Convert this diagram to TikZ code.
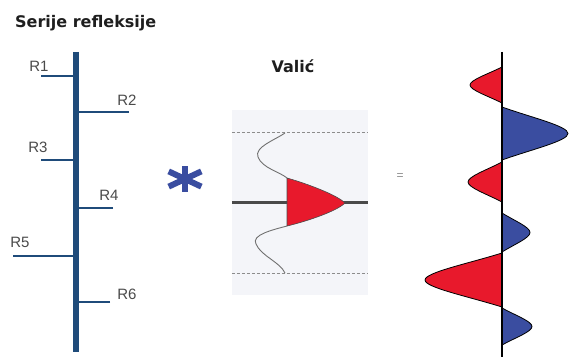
\documentclass[tikz,border=0pt]{standalone}
\usepackage{fontspec}
\setmainfont{Liberation Sans}
\newfontfamily\naslovfont{DejaVu Sans}
\usetikzlibrary{positioning}
\definecolor{tamnoplava}{HTML}{1F4B7A}
\definecolor{plava}{HTML}{3A4DA0}
\definecolor{crvena}{HTML}{E8192C}
\definecolor{siva}{HTML}{8C8C8C}
\definecolor{tamnosiva}{HTML}{4A4A4A}
\definecolor{pozadina}{HTML}{F4F5F9}
\definecolor{tekst}{HTML}{1E1E1E}
\tikzset{
  naslov/.style={font=\naslovfont\bfseries\fontsize{16}{16}\selectfont, text=tekst, inner sep=0pt},
  oznaka/.style={font=\fontsize{15}{15}\selectfont, text=tamnosiva, inner sep=0pt},
  os/.style={line width=5.5pt, tamnoplava},
  klin/.style={line width=2.4pt, tamnoplava},
  zvjezda/.style={line width=6pt, plava},
  isprekidana/.style={densely dashed, siva, line width=0.6pt},
  valic/.style={siva!80!black, line width=0.9pt},
  trag/.style={black, line width=1.8pt},
}
% lobe: boja, gornji y, donji y, vrh x
\newcommand{\lobe}[4]{%
  \filldraw[#1, draw=black, line width=0.8pt]
    (502,#2) .. controls ({502+0.45*(#4-502)},{#2+0.2*(#3-#2)}) and (#4,{(#2+#3)/2-0.14*(#3-#2)}) .. (#4,{(#2+#3)/2})
    .. controls (#4,{(#2+#3)/2+0.14*(#3-#2)}) and ({502+0.45*(#4-502)},{#3-0.2*(#3-#2)}) .. (502,#3) -- cycle;}

\begin{document}
\begin{tikzpicture}[x=1pt, y=-1pt]
  \useasboundingbox (0,0) rectangle (569,358);

  % serije refleksije
  \node[naslov, anchor=base west] (serije) at (15,28) {Serije refleksije};
  \coordinate (osgore) at (76,52);
  \coordinate (osdolje) at (76,352);
  \draw[os] (osgore) -- (osdolje);
  \coordinate (r1) at (41,76);
  \coordinate (r2) at (129,112);
  \coordinate (r3) at (41,160);
  \coordinate (r4) at (113,208);
  \coordinate (r5) at (13,256);
  \coordinate (r6) at (110,302);
  \foreach \r in {r1,r2,r3,r4,r5,r6}
    \draw[klin] (\r) -- (\r -| osgore);
  \node[oznaka] (R1) at (39,66) {R1};
  \node[oznaka] (R2) at (127,100) {R2};
  \node[oznaka] (R3) at (38,147) {R3};
  \node[oznaka] (R4) at (109,195) {R4};
  \node[oznaka] (R5) at (20,242) {R5};
  \node[oznaka] (R6) at (127,294) {R6};

  % konvolucija
  \coordinate (zv) at (185,179);
  \draw[zvjezda] (zv) ++(0,-13) -- ++(0,26);
  \draw[zvjezda] (zv) ++(25:18) -- ++(205:36);
  \draw[zvjezda] (zv) ++(-25:18) -- ++(155:36);

  % valic
  \node[naslov, anchor=base] (valic) at (293,73) {Valić};
  \node[fill=pozadina, minimum width=136pt, minimum height=185pt, inner sep=0pt] (okvir) at (300,202.5) {};
  \draw[isprekidana] ([yshift=-23pt]okvir.north west) -- ([yshift=-23pt]okvir.north east);
  \draw[isprekidana] ([yshift=22pt]okvir.south west) -- ([yshift=22pt]okvir.south east);
  \draw[line width=3.5pt, tamnosiva] (okvir.west) -- (okvir.east);
  \draw[valic] (285,133) .. controls (275,140) and (254,147) .. (258,157)
    .. controls (262,168) and (280,172) .. (287,178);
  \draw[valic] (287,226) .. controls (272,230) and (251,235) .. (256,244)
    .. controls (261,256) and (280,262) .. (285,273);
  \filldraw[crvena, draw=tamnosiva, line width=0.6pt] (287,178) .. controls (308,184) and (337,195) .. (345,203)
    .. controls (337,211) and (308,221) .. (287,226) -- cycle;

  \node[font=\fontsize{12}{12}\selectfont, text=siva] (jednako) at (400,177) {=};

  % rezultat
  \lobe{crvena}{67}{103}{470}
  \lobe{plava}{107}{160}{568}
  \lobe{crvena}{162}{202}{468}
  \lobe{plava}{213}{252}{530}
  \lobe{crvena}{253}{307}{425}
  \lobe{plava}{308}{345}{532}
  \coordinate (tgore) at (502,52);
  \coordinate (tdolje) at (502,357);
  \draw[trag] (tgore) -- (tdolje);
\end{tikzpicture}
\end{document}
